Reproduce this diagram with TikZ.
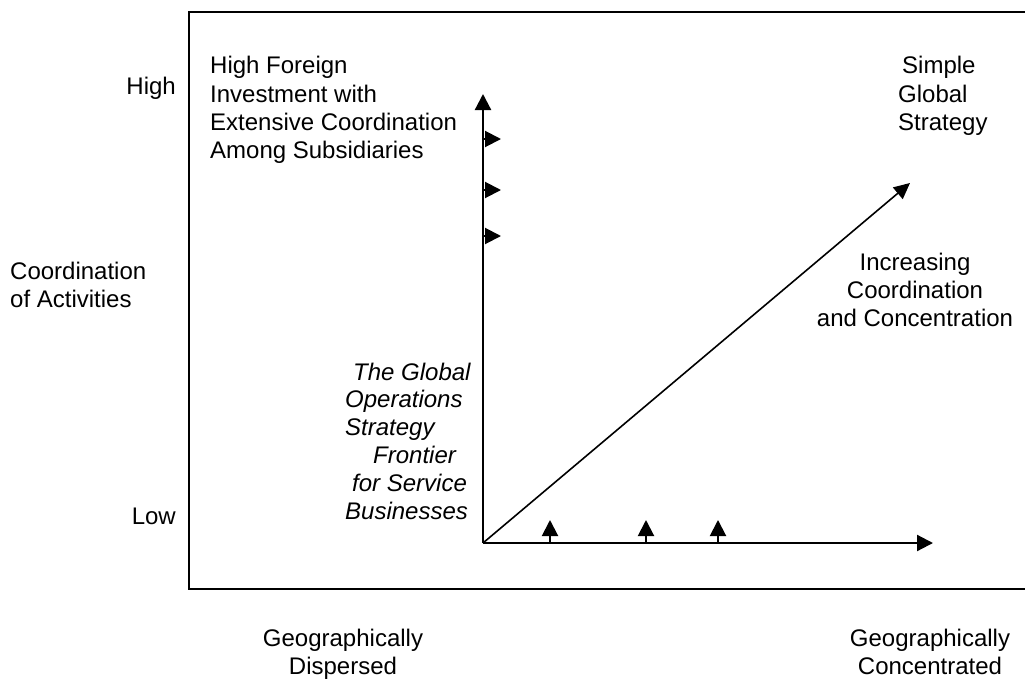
\documentclass[tikz,border=0pt]{standalone}
\usepackage{fontspec}
\setmainfont{Liberation Sans}
\usetikzlibrary{arrows.meta}
\begin{document}
\begin{tikzpicture}[x=1pt,y=-1pt,
  txt/.style={font=\fontsize{24}{28.4}\selectfont, inner sep=0pt},
  axis/.style={line width=2.2pt, -{Triangle[length=16pt,width=16pt]}},
  tick/.style={line width=2pt, -{Triangle[length=16pt,width=16pt]}},
  frame/.style={line width=2pt}]
\useasboundingbox (0,0) rectangle (1025,680);
\clip (0,0) rectangle (1025,680);

% outer frame (open to the right)
\draw[frame] (1040,12) -- (189,12) -- (189,589) -- (1040,589);

% axes
\coordinate (O) at (483,543);
\coordinate (Ytop) at (483,94);
\coordinate (Xend) at (933,543);
\coordinate (Dend) at (910,183);
\draw[axis] (O) -- (Ytop);
\draw[axis] (O) -- (Xend);
\draw[line width=1.6pt, -{Triangle[length=16pt,width=15pt]}] (O) -- (Dend);

% small arrows along the vertical axis
\foreach \y/\n in {139/a,190/b,236/c} {
  \coordinate (v\n) at (483,\y);
  \coordinate (v\n t) at (501,\y);
  \draw[tick] (v\n) -- (v\n t);
}
% small arrows along the horizontal axis
\foreach \x/\n in {550/a,646/b,718/c} {
  \coordinate (h\n) at (\x,543);
  \coordinate (h\n t) at (\x,520);
  \draw[tick] (h\n) -- (h\n t);
}

% labels
\node[txt, anchor=east] (high) at (176,88) {High};
\node[txt, anchor=east] (low) at (176,516) {Low};
\node[txt, anchor=west, align=left] (coord) at (10,285) {Coordination\\of Activities};
\node[txt, anchor=west, align=left] (hfi) at (210,110) {High Foreign\\Investment with\\Extensive Coordination\\Among Subsidiaries};
\node[txt, anchor=west, align=left] (sgs) at (898,96) {\hspace{4pt}Simple\\Global\\Strategy};
\node[txt, align=center] (icc) at (915,290) {Increasing\\Coordination\\and Concentration};
\node[txt, anchor=west, align=left, font=\fontsize{24}{27.8}\selectfont\itshape] (frontier) at (345,441)
  {\hspace{8pt}The Global\\Operations\\Strategy\\\hspace{28pt}Frontier\\\hspace{7pt}for Service\\Businesses};
\node[txt, align=center] (disp) at (343,654) {Geographically\\Dispersed};
\node[txt, align=center] (conc) at (930,652) {Geographically\\Concentrated};
\end{tikzpicture}
\end{document}
